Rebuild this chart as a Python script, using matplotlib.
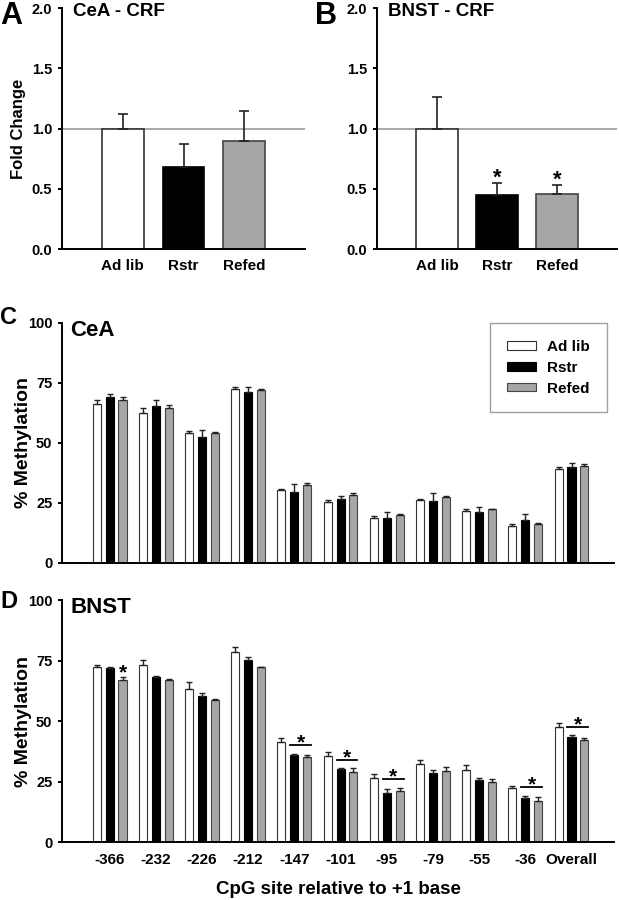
import numpy as np
import matplotlib
matplotlib.use("Agg")
import matplotlib.pyplot as plt
from matplotlib.patches import Patch

plt.rcParams['font.family'] = ['Liberation Sans', 'DejaVu Sans']
plt.rcParams['font.weight'] = 'bold'

# ---------------- data ----------------
groups = ['Ad lib', 'Rstr', 'Refed']

cea_crf_mean = [1.00, 0.68, 0.90]
cea_crf_err = [0.12, 0.19, 0.25]
bnst_crf_mean = [1.00, 0.45, 0.46]
bnst_crf_err = [0.26, 0.10, 0.07]
bnst_crf_sig = [False, True, True]

sites = ['-366', '-232', '-226', '-212', '-147', '-101', '-95', '-79', '-55', '-36', 'Overall']

cea_adlib = [66.1, 62.7, 54.0, 72.3, 30.3, 25.6, 18.7, 26.2, 21.6, 15.4, 39.1]
cea_adlib_err = [2.0, 1.7, 1.1, 1.2, 0.7, 0.6, 0.8, 0.4, 1.0, 0.8, 1.1]
cea_rstr = [69.0, 65.4, 52.5, 71.1, 29.6, 26.6, 18.6, 26.0, 21.2, 17.9, 39.8]
cea_rstr_err = [1.5, 2.6, 2.8, 2.4, 3.4, 1.4, 2.5, 3.1, 2.3, 2.5, 2.0]
cea_refed = [68.1, 64.4, 54.0, 72.0, 32.3, 28.3, 19.9, 27.4, 22.3, 16.2, 40.6]
cea_refed_err = [1.0, 1.5, 0.4, 0.3, 1.1, 0.9, 0.5, 0.6, 0.3, 0.4, 0.5]

bnst_adlib = [72.5, 73.0, 63.4, 78.4, 41.2, 35.5, 26.4, 32.2, 29.7, 22.3, 47.5]
bnst_adlib_err = [0.8, 2.3, 2.9, 2.1, 2.0, 1.7, 1.7, 1.8, 2.0, 0.8, 1.8]
bnst_rstr = [72.1, 68.2, 60.3, 75.1, 36.2, 30.3, 20.4, 28.6, 25.7, 18.2, 43.5]
bnst_rstr_err = [0.3, 0.6, 1.5, 1.5, 0.3, 0.3, 1.5, 1.3, 0.7, 1.1, 0.7]
bnst_refed = [67.1, 66.8, 58.6, 72.3, 35.2, 28.9, 21.1, 29.3, 24.8, 17.2, 42.3]
bnst_refed_err = [1.0, 0.5, 0.7, 0.2, 0.7, 1.7, 1.5, 1.7, 1.5, 1.4, 0.7]

# significance: single star on Refed, or bracket star over Rstr+Refed
bnst_single_star = ['-366']
bnst_bracket_star = ['-147', '-101', '-95', '-36', 'Overall']

# ---------------- style ----------------
face = ['white', 'black', '#a6a6a6']
edge = ['#333333', 'black', '#444444']
W, H = 619, 900


def rect(l, r, t, b):
    return [l / W, 1 - b / H, (r - l) / W, (b - t) / H]


fig = plt.figure(figsize=(W / 100, H / 100), dpi=100)

axA = fig.add_axes(rect(62, 305, 8, 249.3))
axB = fig.add_axes(rect(377, 617, 8, 249.3))
axC = fig.add_axes(rect(62, 614, 323, 563))
axD = fig.add_axes(rect(62, 614, 600, 842.3))


def style_axes(ax):
    for s in ['top', 'right']:
        ax.spines[s].set_visible(False)
    for s in ['left', 'bottom']:
        ax.spines[s].set_linewidth(1.4)
        ax.spines[s].set_color('black')
    ax.tick_params(axis='x', length=0)
    ax.tick_params(axis='y', direction='out', length=3, width=1.4)


# ---------------- panels A, B ----------------
def crf_panel(ax, mean, err, title, sig=None):
    x = np.arange(len(groups))
    ax.axhline(1.0, color='#a8a8a8', lw=1.4, zorder=1)
    for i in range(len(groups)):
        ax.bar(x[i], mean[i], width=0.69, color=face[i], edgecolor=edge[i],
               linewidth=1.2, zorder=2)
        ax.errorbar(x[i], mean[i], yerr=[[0], [err[i]]], fmt='none',
                    ecolor='#222222', elinewidth=1.2, capsize=3.3,
                    capthick=1.2, zorder=3)
        if sig is not None and sig[i]:
            ax.text(x[i], mean[i] + err[i] - 0.045, '*', ha='center',
                    va='bottom', fontsize=16, fontweight='bold')
    ax.set_xlim(-1.0, 3.0)
    ax.set_ylim(0, 2.0)
    ax.set_yticks([0, 0.5, 1.0, 1.5, 2.0])
    ax.set_yticklabels(['0.0', '0.5', '1.0', '1.5', '2.0'])
    ax.set_xticks(x)
    ax.set_xticklabels(groups)
    style_axes(ax)
    ax.tick_params(axis='y', labelsize=10.5, pad=4)
    ax.tick_params(axis='x', labelsize=11, pad=7)
    ax.text(0.045, 0.985, title, transform=ax.transAxes, ha='left', va='center',
            fontsize=13.5, fontweight='bold')


crf_panel(axA, cea_crf_mean, cea_crf_err, 'CeA - CRF')
crf_panel(axB, bnst_crf_mean, bnst_crf_err, 'BNST - CRF', bnst_crf_sig)
axA.set_ylabel('Fold Change', fontsize=12, fontweight='bold')
axA.yaxis.set_label_coords((26 - 62) / 243, 0.5)

# ---------------- panels C, D ----------------
w = 0.174
off = 0.28


def meth_panel(ax, series, errs, title):
    x = np.arange(len(sites))
    for k in range(3):
        xs = x + (k - 1) * off
        ax.bar(xs, series[k], width=w, color=face[k], edgecolor=edge[k],
               linewidth=0.8, zorder=2, label=groups[k])
        ax.errorbar(xs, series[k], yerr=[np.zeros(len(sites)), errs[k]],
                    fmt='none', ecolor='#222222', elinewidth=1.0, capsize=2.0,
                    capthick=1.0, zorder=3)
    ax.set_xlim(-1.03, 10.92)
    ax.set_ylim(0, 100)
    ax.set_yticks([0, 25, 50, 75, 100])
    ax.set_xticks(x)
    style_axes(ax)
    ax.tick_params(axis='y', labelsize=10.5, pad=4)
    ax.set_ylabel('% Methylation', fontsize=14, fontweight='bold')
    ax.yaxis.set_label_coords((32 - 62) / 552, 0.5)
    ax.text(0.015, 0.97, title, transform=ax.transAxes, ha='left', va='center',
            fontsize=16, fontweight='bold')
    return x


xC = meth_panel(axC, [cea_adlib, cea_rstr, cea_refed],
                [cea_adlib_err, cea_rstr_err, cea_refed_err], 'CeA')
axC.set_xticklabels([])

xD = meth_panel(axD, [bnst_adlib, bnst_rstr, bnst_refed],
                [bnst_adlib_err, bnst_rstr_err, bnst_refed_err], 'BNST')
axD.set_xticklabels(sites)
axD.tick_params(axis='x', labelsize=11, pad=8)
axD.set_xlabel('CpG site relative to +1 base', fontsize=13.5, fontweight='bold',
               labelpad=10)

# significance marks in D
for s in bnst_single_star:
    i = sites.index(s)
    top = bnst_refed[i] + bnst_refed_err[i]
    axD.text(xD[i] + off, top - 2.0, '*', ha='center', va='bottom', fontsize=15,
             fontweight='bold')
for s in bnst_bracket_star:
    i = sites.index(s)
    top = max(bnst_rstr[i] + bnst_rstr_err[i], bnst_refed[i] + bnst_refed_err[i])
    yl = top + 3.5
    axD.plot([xD[i] - w / 2, xD[i] + off + w / 2], [yl, yl], color='black', lw=1.3)
    axD.text(xD[i] + off / 2, yl - 3.0, '*', ha='center', va='bottom', fontsize=15,
             fontweight='bold')

# legend in C
handles = [Patch(facecolor=face[k], edgecolor=edge[k], linewidth=0.8, label=groups[k])
           for k in range(3)]
leg = axC.legend(handles=handles, loc='upper left',
                 bbox_to_anchor=(490 / W, 1 - 323 / H), bbox_transform=fig.transFigure,
                 fontsize=11, frameon=True, fancybox=False, edgecolor='#888888',
                 handlelength=1.9, handleheight=0.5, handletextpad=0.75,
                 labelspacing=0.45, borderpad=1.1, borderaxespad=0)
leg.get_frame().set_linewidth(1.0)
for t in leg.get_texts():
    t.set_fontweight('bold')

# panel letters
fig.text(0 / W, 1 - 0.5 / H, 'A', fontsize=22, fontweight='bold', ha='left', va='top')
fig.text(315 / W, 1 - 0.5 / H, 'B', fontsize=22, fontweight='bold', ha='left', va='top')
fig.text(0 / W, 1 - 317 / H, 'C', fontsize=17, fontweight='bold', ha='left', va='center')
fig.text(0 / W, 1 - 601 / H, 'D', fontsize=17, fontweight='bold', ha='left', va='center')

fig.savefig('out.png', dpi=100, facecolor='white')
